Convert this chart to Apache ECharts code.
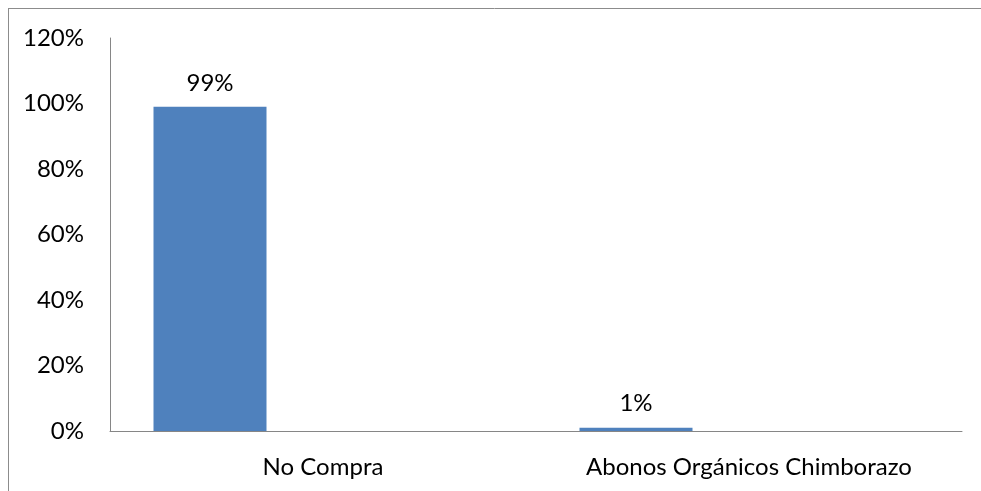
<!DOCTYPE html>
<html>
<head>
<meta charset="utf-8">
<script src="https://cdn.jsdelivr.net/npm/echarts@6/dist/echarts.min.js"></script>
<style>
  html, body { margin: 0; padding: 0; background: #fff; }
  #chart { width: 981px; height: 491px; }
</style>
</head>
<body>
<div id="chart"></div>
<script>
// datos del gráfico
var categories = ["No Compra", "Abonos Orgánicos Chimborazo"];
var shareValues = [0.99, 0.01];
var yTicks = [0, 0.2, 0.4, 0.6, 0.8, 1.0, 1.2];

var chart = echarts.init(document.getElementById("chart"));
var font = "Lato, 'Open Sans', sans-serif";

chart.setOption({
  animation: false,
  grid: { left: 110, right: 19, top: 38, bottom: 60 },
  graphic: [
    // marco exterior
    { type: "line", shape: { x1: 8, y1: 8.5, x2: 981, y2: 8.5 }, style: { stroke: "#8c8c8c", lineWidth: 1 } },
    { type: "line", shape: { x1: 8.5, y1: 8, x2: 8.5, y2: 491 }, style: { stroke: "#8c8c8c", lineWidth: 1 } }
  ],
  xAxis: {
    type: "category",
    data: categories,
    axisTick: { show: false },
    axisLine: { lineStyle: { color: "#868686", width: 1 } },
    axisLabel: { color: "#000", fontFamily: font, fontSize: 24, margin: 24 }
  },
  yAxis: {
    type: "value",
    min: 0,
    max: 1.2,
    interval: 0.2,
    splitLine: { show: false },
    axisTick: { show: false },
    axisLine: { show: true, lineStyle: { color: "#868686", width: 1 } },
    axisLabel: {
      color: "#000",
      fontFamily: font,
      fontSize: 24,
      margin: 26,
      formatter: function (v) { return Math.round(v * 100) + "%"; }
    }
  },
  series: [
    {
      type: "bar",
      data: shareValues,
      barWidth: 113,
      barGap: "0%",
      itemStyle: { color: "#4F81BD" },
      label: {
        show: true,
        position: "top",
        distance: 12,
        color: "#000",
        fontFamily: font,
        fontSize: 24,
        formatter: function (p) { return Math.round(p.value * 100) + "%"; }
      }
    },
    // series vacías (como en Excel, ocupan espacio)
    { type: "bar", data: [null, null], barWidth: 113, barGap: "0%" },
    { type: "bar", data: [null, null], barWidth: 113, barGap: "0%" }
  ]
});
</script>
</body>
</html>
